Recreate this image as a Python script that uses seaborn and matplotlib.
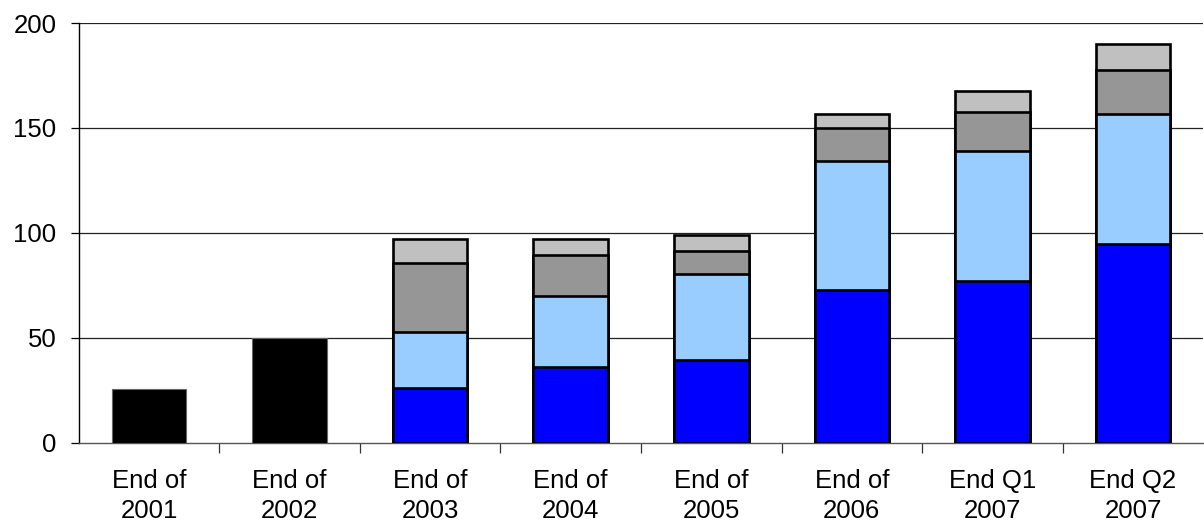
import matplotlib
matplotlib.use("Agg")
import matplotlib.pyplot as plt
from matplotlib.ticker import FixedLocator
import numpy as np
import pandas as pd
import seaborn as sns

# Category labels along the x axis
categories = ["End of\n2001", "End of\n2002", "End of\n2003", "End of\n2004",
              "End of\n2005", "End of\n2006", "End Q1\n2007", "End Q2\n2007"]

# Single totals for the early years (no breakdown available)
totals_early = [25.5, 50.0, None, None, None, None, None, None]

# Breakdown series, stacked bottom to top
seg_blue      = [None, None, 26.1, 36.1, 39.3, 72.7, 77.0, 94.6]
seg_lightblue = [None, None, 26.5, 34.0, 41.0, 61.8, 61.9, 62.0]
seg_darkgray  = [None, None, 33.2, 19.3, 11.0, 15.6, 18.9, 21.1]
seg_lightgray = [None, None, 11.2, 7.6, 7.7, 6.6, 9.9, 12.3]

yticks = [0, 50, 100, 150, 200]

sns.set_theme(style="white")
plt.rcParams["font.family"] = ["Liberation Sans", "DejaVu Sans"]

fig = plt.figure(figsize=(12.04, 5.24), dpi=100)
ax = fig.add_axes([0.0654, 0.155, 0.934, 0.801])

# Cumulative stack heights; draw tallest first so lower segments overlay it
seg_df = pd.DataFrame({
    "cat": categories,
    "blue": seg_blue,
    "lightblue": seg_lightblue,
    "darkgray": seg_darkgray,
    "lightgray": seg_lightgray,
}).dropna()
layers = ["blue", "lightblue", "darkgray", "lightgray"]
colors = {"blue": "#0000FF", "lightblue": "#99CCFF",
          "darkgray": "#969696", "lightgray": "#C0C0C0"}
cum = seg_df[layers].cumsum(axis=1)

bar_w = 0.53
for layer in reversed(layers):
    sns.barplot(x=seg_df["cat"], y=cum[layer], order=categories,
                color=colors[layer], saturation=1, width=bar_w,
                edgecolor="black", linewidth=1.9, ax=ax, zorder=3)

early = pd.DataFrame({"cat": categories, "total": totals_early}).dropna()
sns.barplot(x=early["cat"], y=early["total"], order=categories,
            color="black", saturation=1, width=bar_w,
            edgecolor="#666666", linewidth=0.8, ax=ax, zorder=3)

ax.set_xlim(-0.5, len(categories) - 0.5)
ax.set_ylim(0, 200)
ax.set_yticks(yticks)
ax.set_xlabel("")
ax.set_ylabel("")

# Horizontal gridlines
for y in yticks[1:]:
    ax.axhline(y, color="#222222", linewidth=0.9, zorder=1)

for side in ["top", "right"]:
    ax.spines[side].set_visible(False)
ax.spines["left"].set_color("black")
ax.spines["left"].set_linewidth(1.0)
ax.spines["bottom"].set_color("#555555")
ax.spines["bottom"].set_linewidth(1.0)

ax.tick_params(axis="y", which="major", direction="out", length=6, width=0.9,
               color="black", labelcolor="black", labelsize=18.5, pad=10, left=True)
ax.tick_params(axis="x", which="major", length=0, labelcolor="black",
               labelsize=18.5, pad=19)
ax.xaxis.set_minor_locator(FixedLocator(np.arange(0.5, len(categories) - 0.5, 1.0)))
ax.tick_params(axis="x", which="minor", direction="out", length=7, width=0.9,
               color="#333333", bottom=True)
for lbl in ax.get_xticklabels():
    lbl.set_linespacing(1.33)

fig.savefig("out.png", dpi=100)
